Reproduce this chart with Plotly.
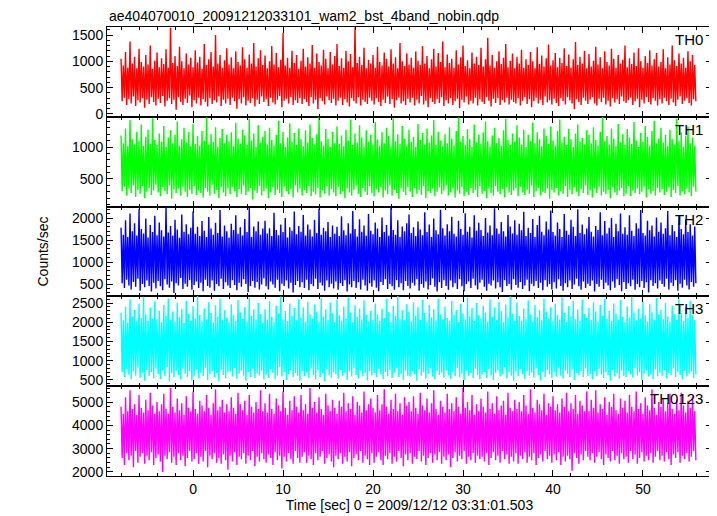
import plotly.graph_objects as go
from plotly.subplots import make_subplots

# ---- data (read/: successive
#      samples swing between the upper and lower edge of each band) ----
t_start = -8.0
t_step = 0.125

th0 = [
    1050, 240, 920, 310, 1180, 170, 880, 280, 1380, 200, 960, 330, 1090, 150, 870, 260, 1240, 220, 990, 300, 900, 120, 1120, 270, 940, 190, 1300, 320, 860, 230, 1010, 160,
    1170, 290, 890, 210, 1060, 340, 950, 140, 1230, 250, 880, 300, 1640, 190, 970, 270, 1100, 80, 910, 320, 1280, 230, 1000, 170, 870, 290, 1150, 210, 940, 350, 1070, 130,
    890, 260, 1210, 200, 980, 310, 1090, 160, 860, 280, 1330, 230, 930, 140, 1040, 300, 1180, 190, 900, 260, 1500, 220, 960, 330, 1120, 150, 880, 270, 1020, 200, 1250, 290,
    940, 170, 1080, 310, 870, 240, 1190, 100, 990, 280, 920, 200, 1270, 320, 1040, 160, 880, 250, 1130, 210, 960, 300, 1350, 140, 900, 270, 1060, 190, 1210, 330, 930, 230,
    1110, 280, 870, 150, 1000, 310, 1290, 220, 940, 180, 1160, 270, 890, 340, 1030, 130, 1540, 250, 920, 290, 1070, 200, 880, 320, 1200, 170, 970, 260, 1120, 210, 860, 300,
    1010, 190, 1240, 280, 900, 230, 1080, 150, 960, 320, 1310, 200, 880, 270, 1150, 90, 990, 300, 920, 240, 1220, 180, 1050, 330, 870, 260, 1180, 210, 940, 290, 1100, 160,
    1330, 250, 910, 310, 1060, 170, 880, 280, 1200, 220, 1000, 140, 1140, 300, 890, 240, 1650, 200, 970, 320, 1090, 160, 930, 270, 1260, 230, 870, 190, 1030, 310, 960, 250,
    1120, 180, 880, 300, 1280, 230, 990, 150, 920, 270, 1170, 210, 1050, 330, 900, 190, 1230, 280, 960, 120, 1080, 260, 870, 310, 1350, 200, 1000, 240, 910, 170, 1150, 290,
    940, 220, 1070, 310, 880, 160, 1190, 270, 1010, 200, 930, 340, 1290, 180, 960, 250, 1100, 130, 870, 300, 1040, 230, 1240, 190, 900, 280, 1160, 210, 990, 320, 1380, 150,
    890, 260, 1130, 200, 970, 300, 1050, 170, 880, 240, 1210, 290, 940, 110, 1080, 270, 1300, 220, 910, 330, 1020, 180, 870, 250, 1170, 200, 960, 310, 1090, 160, 930, 280,
    1260, 230, 900, 190, 1040, 320, 1450, 250, 920, 140, 1120, 290, 880, 210, 1000, 300, 1190, 170, 950, 260, 1070, 220, 1330, 310, 890, 180, 1010, 270, 1150, 230, 870, 200,
    1090, 300, 960, 160, 1220, 250, 880, 320, 1040, 190, 930, 280, 1180, 130, 1000, 240, 870, 310, 1270, 200, 950, 270, 1110, 170, 900, 330, 1060, 220, 1320, 260, 920, 180,
    1020, 290, 1160, 210, 890, 150, 1070, 300, 970, 240, 1250, 180, 910, 320, 1130, 260, 880, 200, 1040, 90, 1370, 280, 930, 230, 1090, 170, 960, 310, 1200, 250, 870, 190,
    1140, 270, 900, 320, 1010, 200, 1280, 160, 940, 290, 1080, 230, 870, 310, 1190, 180, 990, 250, 920, 140, 1240, 300, 1050, 220, 880, 280, 1120, 190, 960, 330, 1030, 240,
    1300, 210, 890, 260, 1060, 310, 950, 170, 1170, 240, 910, 290, 1250, 130, 1000, 270, 880, 200, 1100, 320, 970, 230, 1210, 180, 920, 300, 1040, 250, 1160, 160, 900, 280,
    990, 200, 1230, 310, 870, 240, 1080, 170, 940, 290, 1300, 220, 1020, 150, 910, 270, 1150, 330, 960, 190, 1070, 250, 880, 300, 1190, 210, 1000, 160, 1120, 280, 930, 240,
]

th1 = [
    1180, 310, 1060, 380, 1290, 240, 1010, 350, 1420, 280, 1120, 400, 1040, 220, 1240, 330, 1090, 270, 1350, 390, 1020, 200, 1160, 300, 1270, 360, 1050, 250, 1450, 320, 1110, 410,
    1030, 290, 1210, 230, 1080, 370, 1330, 310, 1000, 260, 1150, 400, 1260, 190, 1060, 340, 1190, 280, 1400, 350, 1020, 240, 1120, 380, 1300, 300, 1070, 220, 1230, 330, 1010, 270,
    1360, 390, 1050, 250, 1170, 320, 1020, 280, 1250, 210, 1100, 360, 1460, 300, 1040, 240, 1200, 410, 1080, 270, 1310, 330, 1000, 200, 1140, 370, 1280, 290, 1060, 230, 1190, 350,
    1090, 260, 1230, 380, 1010, 310, 1380, 220, 1130, 340, 1050, 270, 1270, 400, 1180, 250, 1030, 300, 1440, 360, 1100, 180, 1210, 320, 1000, 280, 1340, 390, 1070, 240, 1160, 310,
    1250, 350, 1040, 200, 1300, 290, 1110, 370, 1020, 250, 1190, 330, 1410, 280, 1060, 220, 1240, 380, 1000, 310, 1150, 260, 1370, 340, 1080, 210, 1220, 400, 1030, 290, 1290, 350,
    1120, 240, 1010, 330, 1260, 280, 1070, 390, 1350, 230, 1140, 300, 1040, 260, 1200, 360, 1470, 210, 1090, 320, 1020, 270, 1280, 390, 1130, 240, 1000, 340, 1240, 290, 1060, 230,
    1320, 380, 1050, 260, 1180, 310, 1010, 200, 1270, 350, 1100, 290, 1430, 240, 1030, 330, 1210, 400, 1070, 270, 1340, 220, 1150, 360, 1000, 300, 1260, 250, 1080, 390, 1190, 280,
    1040, 230, 1390, 340, 1120, 290, 1020, 370, 1230, 210, 1060, 320, 1300, 260, 1170, 400, 1010, 240, 1450, 330, 1090, 280, 1200, 190, 1050, 350, 1330, 300, 1130, 250, 1020, 370,
    1270, 300, 1080, 220, 1160, 360, 1000, 270, 1360, 330, 1110, 250, 1220, 390, 1040, 200, 1290, 310, 1070, 280, 1180, 350, 1420, 230, 1030, 300, 1240, 370, 1100, 260, 1010, 320,
    1200, 400, 1060, 240, 1310, 290, 1130, 350, 1020, 210, 1250, 320, 1460, 270, 1080, 380, 1170, 230, 1030, 300, 1280, 250, 1120, 360, 1000, 280, 1350, 330, 1070, 220, 1190, 390,
    1050, 270, 1230, 310, 1400, 200, 1090, 350, 1010, 280, 1180, 240, 1300, 390, 1060, 300, 1140, 260, 1020, 340, 1260, 210, 1440, 370, 1110, 290, 1030, 250, 1210, 320, 1080, 360,
    1340, 230, 1150, 380, 1040, 290, 1270, 250, 1000, 330, 1190, 270, 1090, 400, 1380, 220, 1060, 310, 1230, 360, 1120, 240, 1010, 300, 1290, 280, 1170, 350, 1050, 190, 1320, 330,
    1100, 290, 1020, 360, 1250, 240, 1430, 310, 1070, 270, 1160, 390, 1030, 220, 1280, 330, 1120, 260, 1000, 370, 1210, 300, 1350, 230, 1080, 340, 1140, 280, 1040, 400, 1260, 250,
    1190, 320, 1060, 210, 1310, 350, 1110, 280, 1020, 380, 1240, 240, 1470, 300, 1090, 260, 1170, 330, 1040, 200, 1290, 370, 1130, 290, 1010, 250, 1360, 320, 1070, 360, 1200, 230,
    1030, 270, 1280, 390, 1150, 230, 1050, 320, 1390, 280, 1100, 350, 1000, 260, 1220, 300, 1080, 380, 1330, 210, 1160, 340, 1020, 270, 1250, 310, 1410, 240, 1060, 360, 1130, 290,
    1300, 340, 1070, 250, 1190, 300, 1010, 370, 1270, 220, 1120, 330, 1040, 280, 1440, 390, 1090, 240, 1230, 310, 1000, 260, 1180, 350, 1320, 290, 1060, 230, 1150, 380, 1020, 300,
]

th2 = [
    1780, 520, 1620, 410, 1950, 600, 1570, 470, 2100, 380, 1700, 550, 1880, 440, 1600, 620, 2200, 350, 1750, 500, 1650, 430, 1990, 580, 1560, 460, 1840, 330, 1680, 530, 2050, 400,
    1610, 570, 1900, 450, 1720, 360, 1580, 610, 2250, 490, 1670, 420, 1820, 560, 1600, 300, 1960, 520, 1740, 470, 1550, 640, 2080, 390, 1690, 510, 1860, 440, 1630, 590, 1780, 370,
    2150, 480, 1640, 560, 1800, 410, 1590, 530, 1930, 340, 1710, 600, 1570, 460, 2020, 420, 1760, 580, 1620, 350, 1890, 500, 1660, 450, 2180, 620, 1580, 390, 1830, 540, 1700, 470,
    1560, 410, 1870, 590, 1730, 480, 2060, 360, 1640, 530, 1790, 440, 1600, 610, 1980, 500, 1680, 320, 2230, 460, 1570, 570, 1810, 420, 1700, 550, 1920, 380, 1620, 490, 1760, 630,
    1940, 450, 1650, 380, 1770, 560, 1590, 490, 2120, 420, 1730, 600, 1610, 340, 1850, 510, 1680, 460, 2000, 580, 1560, 400, 1790, 530, 1710, 310, 2150, 480, 1630, 570, 1820, 430,
    1690, 540, 2070, 410, 1600, 600, 1850, 360, 1740, 500, 1580, 450, 1960, 620, 1660, 390, 2210, 530, 1620, 470, 1780, 350, 1700, 580, 1910, 430, 1570, 510, 1830, 400, 1640, 560,
    1800, 370, 1590, 520, 2040, 460, 1720, 590, 1610, 330, 1880, 490, 1650, 430, 2160, 570, 1750, 410, 1580, 540, 1970, 380, 1690, 600, 1830, 470, 1600, 350, 2090, 520, 1710, 440,
    1630, 580, 1900, 420, 1760, 340, 1570, 550, 2010, 480, 1680, 610, 1840, 390, 1600, 500, 2240, 450, 1730, 370, 1620, 590, 1950, 430, 1570, 520, 1810, 360, 1700, 570, 1880, 460,
    2080, 400, 1660, 530, 1790, 470, 1590, 610, 1920, 350, 1740, 500, 1610, 420, 2130, 560, 1680, 380, 1850, 480, 1570, 630, 1990, 440, 1720, 330, 1630, 540, 2190, 410, 1770, 590,
    1600, 460, 1860, 370, 1700, 580, 2030, 430, 1640, 520, 1580, 390, 1940, 610, 1750, 450, 1620, 340, 2110, 500, 1690, 560, 1800, 410, 1560, 620, 2060, 470, 1710, 380, 1890, 530,
    1730, 600, 1590, 440, 2000, 350, 1670, 510, 1830, 470, 1610, 580, 2220, 400, 1760, 540, 1640, 430, 1910, 320, 1700, 590, 1580, 460, 2070, 500, 1810, 370, 1650, 610, 1950, 480,
    1620, 420, 1870, 550, 1720, 390, 2140, 470, 1590, 600, 1780, 340, 1660, 510, 1980, 450, 1570, 570, 1840, 410, 2050, 530, 1690, 360, 1610, 590, 1920, 440, 1740, 500, 2170, 380,
    1680, 540, 1600, 400, 1900, 610, 1750, 460, 1570, 350, 2090, 520, 1710, 430, 1620, 580, 1960, 390, 1800, 490, 1590, 620, 2200, 450, 1660, 370, 1850, 560, 1630, 410, 1760, 510,
    2020, 460, 1690, 580, 1580, 330, 1820, 500, 1730, 440, 2130, 600, 1610, 390, 1930, 530, 1650, 470, 1780, 360, 2000, 560, 1570, 420, 1870, 610, 1700, 480, 2100, 340, 1640, 550,
    1790, 390, 1620, 520, 2060, 450, 1710, 600, 1590, 370, 1880, 500, 1760, 430, 2180, 570, 1660, 410, 1600, 540, 1940, 310, 1720, 590, 1830, 460, 1580, 520, 2010, 400, 1690, 580,
    1900, 500, 1640, 440, 1770, 620, 2160, 380, 1610, 530, 1840, 460, 1700, 590, 1570, 350, 2040, 510, 1750, 420, 1630, 600, 1970, 470, 1680, 380, 1860, 550, 1600, 440, 1810, 520,
]

th3 = [
    2250, 700, 2050, 580, 2400, 780, 1990, 640, 2600, 520, 2150, 730, 2320, 610, 2020, 820, 2480, 560, 2110, 690, 2660, 480, 2200, 760, 2030, 600, 2380, 710, 2090, 540, 2540, 800,
    2080, 650, 2300, 520, 2000, 750, 2450, 600, 2170, 830, 2620, 470, 2060, 680, 2280, 570, 2010, 740, 2500, 620, 2130, 510, 2350, 790, 1980, 660, 2560, 580, 2220, 720, 2040, 490,
    2420, 610, 2100, 770, 2680, 540, 2190, 690, 2020, 600, 2360, 820, 2070, 500, 2520, 650, 2240, 730, 1990, 570, 2440, 680, 2150, 460, 2610, 760, 2050, 630, 2310, 540, 2120, 700,
    2000, 720, 2470, 590, 2180, 810, 2040, 530, 2580, 660, 2260, 750, 2090, 610, 2390, 480, 2010, 700, 2640, 580, 2160, 790, 2330, 550, 2070, 670, 2500, 620, 2210, 740, 1990, 510,
    2340, 640, 2060, 560, 2550, 780, 2140, 690, 2000, 520, 2430, 620, 2230, 840, 2670, 590, 2080, 710, 2290, 500, 2030, 650, 2490, 760, 2170, 570, 2370, 680, 2050, 610, 2600, 480,
    2120, 730, 2380, 600, 2020, 690, 2530, 550, 2200, 800, 2090, 630, 2460, 510, 2270, 740, 2010, 580, 2630, 670, 2150, 470, 2340, 780, 2060, 620, 2510, 560, 2230, 700, 2000, 650,
    2590, 540, 2180, 760, 2040, 610, 2410, 690, 2100, 500, 2650, 720, 2250, 590, 2000, 810, 2440, 630, 2140, 540, 2360, 750, 2070, 600, 2570, 680, 2190, 490, 2020, 730, 2300, 620,
    2060, 680, 2490, 570, 2210, 790, 2030, 640, 2350, 520, 2110, 710, 2610, 600, 2260, 760, 2000, 550, 2420, 690, 2160, 820, 2680, 580, 2080, 650, 2310, 500, 2050, 740, 2470, 610,
    2280, 590, 2020, 720, 2520, 650, 2170, 480, 2390, 770, 2060, 610, 2580, 700, 2240, 540, 2010, 660, 2450, 800, 2130, 590, 2340, 510, 2050, 730, 2620, 630, 2200, 690, 2080, 560,
    2400, 750, 2110, 620, 2040, 530, 2560, 700, 2190, 600, 2320, 810, 2000, 570, 2480, 660, 2230, 490, 2070, 740, 2640, 610, 2150, 680, 2370, 550, 2030, 790, 2500, 630, 2180, 520,
    2090, 640, 2430, 710, 2250, 560, 2010, 780, 2600, 620, 2140, 500, 2380, 690, 2060, 750, 2530, 590, 2290, 640, 2000, 830, 2460, 540, 2120, 700, 2670, 610, 2220, 480, 2040, 720,
    2510, 600, 2160, 780, 2030, 650, 2360, 520, 2080, 730, 2570, 610, 2200, 690, 2010, 560, 2440, 800, 2130, 630, 2310, 490, 2050, 710, 2620, 580, 2270, 760, 2100, 640, 2390, 550,
    2020, 700, 2480, 590, 2190, 820, 2070, 610, 2650, 530, 2240, 740, 2000, 660, 2420, 580, 2150, 770, 2550, 500, 2080, 680, 2330, 620, 2040, 730, 2590, 570, 2210, 800, 2110, 600,
    2370, 650, 2060, 510, 2520, 720, 2280, 600, 2010, 790, 2450, 640, 2170, 550, 2610, 700, 2090, 620, 2300, 480, 2030, 760, 2490, 590, 2230, 680, 2070, 530, 2580, 740, 2140, 610,
    2000, 580, 2410, 730, 2120, 640, 2660, 560, 2250, 810, 2050, 620, 2350, 700, 2100, 490, 2540, 660, 2180, 750, 2020, 590, 2470, 640, 2260, 520, 2060, 780, 2630, 600, 2200, 690,
    2320, 610, 2080, 760, 2500, 540, 2150, 680, 2010, 620, 2430, 800, 2210, 570, 2060, 700, 2600, 630, 2240, 510, 2030, 740, 2390, 590, 2110, 660, 2560, 720, 2180, 550, 2050, 640,
]

th0123 = [
    4800, 2600, 4500, 2300, 5200, 2800, 4600, 2500, 5500, 2700, 4700, 2200, 4900, 2900, 4450, 2400, 5300, 2650, 4750, 2800, 4550, 2350, 5100, 2700, 4650, 2500, 5400, 2850, 4850, 2300, 4500, 2600,
    5000, 2750, 4600, 2450, 4900, 2000, 5350, 2700, 4700, 2550, 4500, 2850, 5600, 2400, 4800, 2650, 4550, 2300, 5150, 2800, 4650, 2500, 4950, 2700, 4450, 2250, 5250, 2600, 4750, 2900, 4600, 2450,
    5450, 2550, 4700, 2800, 4500, 2350, 5050, 2650, 4850, 2450, 4600, 2900, 5300, 2200, 4750, 2700, 4450, 2550, 4950, 2800, 5550, 2400, 4650, 2600, 4800, 2350, 5100, 2750, 4550, 2500, 4900, 2100,
    4600, 2700, 5200, 2450, 4750, 2850, 4500, 2300, 5400, 2650, 4900, 2550, 4650, 2800, 5050, 2350, 4450, 2700, 5300, 2500, 4800, 2900, 4550, 2250, 5000, 2650, 4700, 2450, 5500, 2800, 4600, 2550,
    4950, 2400, 4550, 2750, 5350, 2600, 4700, 2300, 4500, 2850, 5150, 2500, 4850, 2700, 4600, 2150, 5450, 2650, 4750, 2450, 4450, 2800, 5050, 2550, 4650, 2350, 5250, 2900, 4800, 2600, 4550, 2400,
    5300, 2650, 4650, 2850, 4900, 2400, 4500, 2700, 5600, 2550, 4750, 2300, 5000, 2800, 4550, 2500, 5200, 2650, 4700, 2900, 4450, 2350, 5350, 2600, 4850, 2750, 4600, 2450, 5100, 2200, 4750, 2700,
    4500, 2550, 5050, 2800, 4800, 2350, 5400, 2650, 4600, 2450, 4950, 2850, 4700, 2250, 5250, 2600, 4450, 2750, 5000, 2500, 4850, 2900, 4550, 2400, 5450, 2700, 4650, 2550, 4900, 2300, 5150, 2800,
    4750, 2400, 4550, 2650, 5300, 2850, 4650, 2500, 4900, 2300, 5550, 2700, 4800, 2550, 4500, 2800, 5100, 2350, 4700, 2650, 5350, 2450, 4600, 2900, 4950, 2600, 4450, 2250, 5200, 2750, 4850, 2500,
    5000, 2800, 4600, 2350, 5250, 2650, 4750, 2550, 4500, 2900, 5400, 2450, 4850, 2700, 4650, 2300, 5150, 2600, 4550, 2800, 4950, 2400, 5500, 2750, 4700, 2500, 4450, 2850, 5050, 2350, 4800, 2650,
    4550, 2500, 5350, 2750, 4700, 2200, 4950, 2600, 4600, 2850, 5200, 2450, 4800, 2700, 4500, 2550, 5600, 2900, 4750, 2350, 5000, 2650, 4650, 2500, 5300, 2800, 4450, 2400, 4900, 2700, 4600, 2550,
    5150, 2650, 4800, 2450, 4550, 2800, 5450, 2300, 4700, 2600, 4950, 2850, 4500, 2500, 5250, 2700, 4650, 2400, 4850, 2900, 5050, 2550, 4450, 2750, 5400, 2350, 4750, 2650, 4600, 2450, 5100, 2800,
    4700, 2350, 5000, 2700, 4600, 2550, 5300, 2850, 4850, 2400, 4500, 2650, 5550, 2500, 4750, 2800, 4550, 2300, 5100, 2600, 4900, 2750, 4650, 2450, 5350, 2900, 4450, 2550, 4950, 2700, 4800, 2400,
    5250, 2750, 4650, 2500, 4900, 2850, 4550, 2300, 5150, 2650, 4800, 2450, 5400, 2700, 4600, 2550, 4950, 2050, 4700, 2800, 5300, 2600, 4500, 2350, 5050, 2750, 4850, 2500, 4600, 2900, 5450, 2650,
    4600, 2500, 5100, 2800, 4750, 2400, 5500, 2650, 4550, 2850, 4900, 2550, 4700, 2300, 5200, 2750, 4450, 2600, 5000, 2450, 4800, 2900, 5350, 2500, 4650, 2700, 4500, 2350, 5150, 2800, 4750, 2550,
    5050, 2650, 4550, 2400, 5300, 2900, 4800, 2550, 4600, 2750, 5450, 2350, 4700, 2600, 4950, 2850, 4500, 2450, 5200, 2700, 4850, 2500, 4650, 2800, 5550, 2400, 4750, 2650, 4450, 2900, 5000, 2500,
    4800, 2700, 5150, 2450, 4600, 2850, 4950, 2550, 5350, 2300, 4700, 2750, 4500, 2600, 5100, 2850, 4650, 2400, 5400, 2700, 4850, 2550, 4550, 2800, 5050, 2450, 4750, 2650, 5250, 2900, 4600, 2500,
]

band_names = ["TH0", "TH1", "TH2", "TH3", "TH0123"]
band_values = [th0, th1, th2, th3, th0123]
band_colors = ["#ff0000", "#00ff00", "#0000ff", "#00ffff", "#ff00ff"]
y_ranges = [[-58, 1654], [62, 1469], [230, 2250], [344, 2682], [1828, 5686]]
y_major = [500, 500, 500, 500, 1000]
y_minor = [100, 100, 100, 100, 200]

title_text = "ae404070010_20091212033101_wam2_bst_4band_nobin.qdp"
x_title = "Time [sec] 0 = 2009/12/12 03:31:01.503"
y_title = "Counts/sec"
x_range = [-9.56, 57.67]

# ---- figure ----
# the page body adds an 8px offset, so the figure is 8px smaller than the window
W, H = 709, 508
ml, mr, mt, mb = 99, 5, 19, 40
plot_h = H - mt - mb  # 449
bounds_px = [0, 90, 180, 269, 359, 449]

fig = make_subplots(rows=5, cols=1, shared_xaxes=True, vertical_spacing=0)

font_family = "Liberation Sans, Arial, Helvetica, sans-serif"

for i, (name, vals, col) in enumerate(zip(band_names, band_values, band_colors)):
    tvals = [t_start + k * t_step for k in range(len(vals))]
    fig.add_trace(
        go.Scatter(x=tvals, y=vals, mode="lines",
                   line=dict(color=col, width=1.4, simplify=False), showlegend=False,
                   hoverinfo="skip"),
        row=i + 1, col=1)
    top = 1 - bounds_px[i] / plot_h
    bot = 1 - bounds_px[i + 1] / plot_h
    yname = "yaxis" if i == 0 else f"yaxis{i+1}"
    xname = "xaxis" if i == 0 else f"xaxis{i+1}"
    fig.layout[yname].update(
        domain=[bot, top], range=y_ranges[i],
        tickmode="linear", tick0=0, dtick=y_major[i],
        ticks="inside", ticklen=6, tickwidth=1, tickcolor="black",
        minor=dict(dtick=y_minor[i], tick0=0, ticks="inside", ticklen=3,
                   tickcolor="black", showgrid=False),
        showline=True, linecolor="black", linewidth=1, mirror="allticks",
        showgrid=False, zeroline=False,
        tickfont=dict(family=font_family, size=14, color="black"),
    )
    fig.layout[xname].update(
        range=x_range, tickmode="linear", tick0=0, dtick=10,
        ticks="inside", ticklen=6, tickwidth=1, tickcolor="black",
        minor=dict(dtick=2, tick0=0, ticks="inside", ticklen=3,
                   tickcolor="black", showgrid=False),
        showline=True, linecolor="black", linewidth=1, mirror="allticks",
        showgrid=False, zeroline=False,
        showticklabels=(i == 4),
        tickfont=dict(family=font_family, size=14, color="black"),
    )
    fig.add_annotation(
        text=name, xref="paper", yref="paper", x=1, y=top,
        xanchor="right", yanchor="top", xshift=-7, yshift=-2,
        showarrow=False, font=dict(family=font_family, size=15, color="black"))

fig.layout["xaxis5"].update(title=dict(text=x_title, standoff=4,
                                       font=dict(family=font_family, size=14, color="black")))

fig.add_annotation(text=y_title, xref="paper", yref="paper", x=0, y=0.5,
                   xanchor="center", yanchor="middle", xshift=-65, textangle=-90,
                   showarrow=False, font=dict(family=font_family, size=14, color="black"))

fig.add_annotation(text=title_text, xref="paper", yref="paper", x=0, y=1,
                   xanchor="left", yanchor="bottom", yshift=1,
                   showarrow=False, font=dict(family=font_family, size=14, color="black"))

fig.update_layout(
    width=W, height=H,
    margin=dict(l=ml, r=mr, t=mt, b=mb, pad=0),
    plot_bgcolor="white", paper_bgcolor="white",
    showlegend=False,
)

fig.write_html("out.html")
